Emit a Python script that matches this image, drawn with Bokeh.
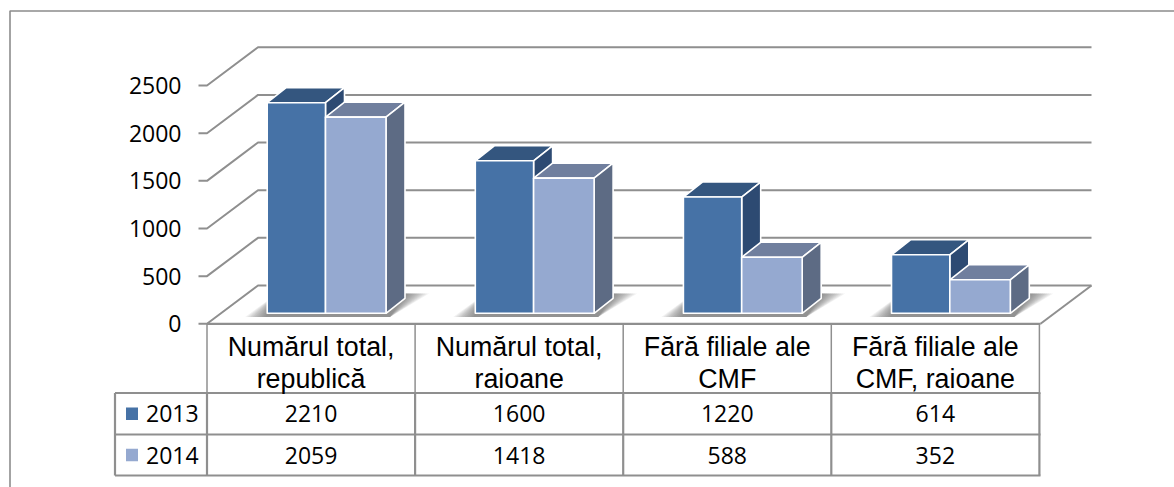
from bokeh.plotting import figure
from bokeh.models import Range1d
from bokeh.core.properties import value
from bokeh.embed import file_html
from bokeh.resources import INLINE

categories = [["Numărul total,", "republică"], ["Numărul total,", "raioane"],
              ["Fără filiale ale", "CMF"], ["Fără filiale ale", "CMF, raioane"]]
series_names = ["2013", "2014"]
values_2013 = [2210, 1600, 1220, 614]
values_2014 = [2059, 1418, 588, 352]
y_ticks = [0, 500, 1000, 1500, 2000, 2500]

FRONT = ["#4672a6", "#95a9d0"]
TOP = ["#34567f", "#707f9e"]
SIDE = ["#2d4a72", "#5d6b84"]
GRID = "#8f8f8f"
LINE = "#8c8c8c"
NUM_FONT = "Open Sans"
NUM_SIZE = "23px"
CAT_SIZE = "26.8px"

K = 0.0953               # px per unit
Y0 = 323.3               # page y of value 0
W, H = 1174, 487

def py(page_y):
    return (Y0 - page_y) / K

p = figure(width=W, height=H, output_backend="svg", toolbar_location=None,
           x_range=Range1d(0, W), y_range=Range1d(py(H), py(0)),
           x_axis_type=None, y_axis_type=None, min_border=0)
p.grid.visible = False
p.outline_line_color = None

# outer chart frame
p.line([9.5, 9.5, 1174], [py(487), py(10.5), py(10.5)], line_color=LINE, line_width=1.6)

# walls and floor
AX0, AX1 = 206.5, 1040
DX, DY = 51, 38.3
for t in y_ticks:
    dv = DY / K
    p.line([198, AX0, AX0 + DX, AX1 + DX], [t, t, t + dv, t + dv], line_color=GRID, line_width=2)
p.line([AX1, AX1 + DX], [0, DY / K], line_color=GRID, line_width=2)

# table
TX = [AX0 + 208.1 * i for i in range(5)]
RY = [py(323.3), py(392.5), py(434), py(475)]
p.line([AX0, AX1], [RY[0], RY[0]], line_color=GRID, line_width=2.2)
for x in TX:
    p.line([x, x], [RY[0], RY[1]], line_color=GRID, line_width=1.5)
for r in RY[1:]:
    p.line([114.5, AX1], [r, r], line_color=GRID, line_width=2.2)
for x in [114.5] + TX:
    p.line([x, x], [RY[1], RY[3]], line_color=GRID, line_width=2.2)

# bars
BASE = py(312.8)
BW = [58.3, 60.5]
GX = [266.7 + 208.1 * i for i in range(4)]
BDX, BDY = 19, 15 / K
for g, x0 in enumerate(GX):
    x2 = x0 + sum(BW)
    # soft floor shadow
    for i in range(12):
        t = 1 - i / 12
        p.patch([x0 - 22 * t, x2 + 4, x2 + BDX + 24 * t, x0 + 10],
                [py(316.5), py(316.5), py(293), py(293)],
                fill_color="#555555", fill_alpha=0.075, line_color=None)
    x = x0
    for s, vals in enumerate([values_2013, values_2014]):
        w = BW[s]
        top = BASE + vals[g]
        edge = dict(line_color="white", line_width=1.6, line_join="round")
        p.patch([x, x + w, x + w + BDX, x + BDX], [top, top, top + BDY, top + BDY], fill_color=TOP[s], **edge)
        p.patch([x + w, x + w + BDX, x + w + BDX, x + w], [BASE, BASE + BDY, top + BDY, top], fill_color=SIDE[s], **edge)
        p.patch([x, x + w, x + w, x], [BASE, BASE, top, top], fill_color=FRONT[s], **edge)
        x += w

# y tick labels
p.text([181] * len(y_ticks), y_ticks, text=[str(t) for t in y_ticks], text_align="right",
       text_baseline="middle", text_font=value(NUM_FONT), text_font_size=NUM_SIZE, text_color="black")

# category labels
for i, lines in enumerate(categories):
    cx = (TX[i] + TX[i + 1]) / 2
    p.text([cx], [py(346)], text=[lines[0]], text_align="center", text_baseline="middle",
           text_font=value("Liberation Sans"), text_font_size=CAT_SIZE, text_color="black")
    p.text([cx], [py(378)], text=[lines[1]], text_align="center", text_baseline="middle",
           text_font=value("Liberation Sans"), text_font_size=CAT_SIZE, text_color="black")

# data rows and legend keys
for s, (name, vals) in enumerate(zip(series_names, [values_2013, values_2014])):
    ym = (RY[s + 1] + RY[s + 2]) / 2
    half = 6.2 / K
    p.patch([125.5, 137.5, 137.5, 125.5], [ym - half, ym - half, ym + half, ym + half],
            fill_color=FRONT[s], line_color=None)
    p.text([145.5], [ym], text=[name], text_align="left", text_baseline="middle",
           text_font=value(NUM_FONT), text_font_size=NUM_SIZE, text_color="black")
    for i, v in enumerate(vals):
        p.text([(TX[i] + TX[i + 1]) / 2], [ym], text=[str(v)], text_align="center", text_baseline="middle",
               text_font=value(NUM_FONT), text_font_size=NUM_SIZE, text_color="black")

open("out.html", "w").write(file_html(p, INLINE))
